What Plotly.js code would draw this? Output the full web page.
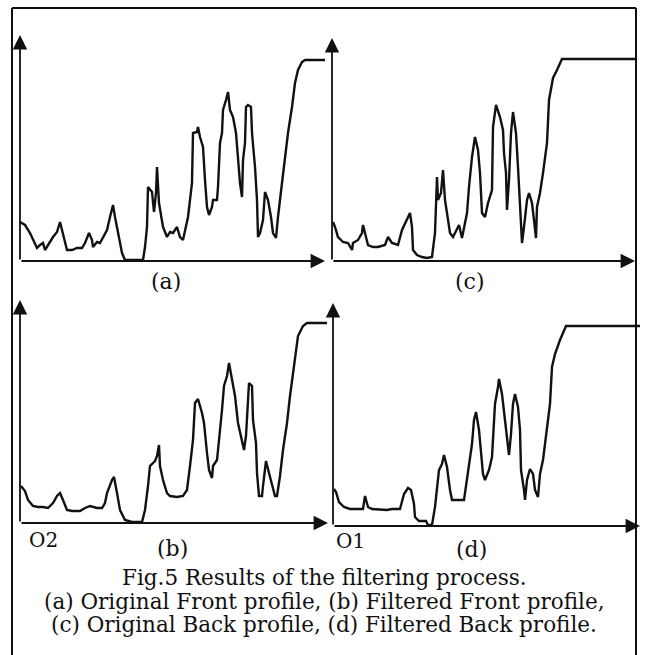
<!DOCTYPE html>
<html>
<head>
<meta charset="utf-8">
<script src="https://cdn.plot.ly/plotly-3.0.1.min.js"></script>
<style>html,body{margin:0;padding:0;background:#fff;}#chart{width:646px;height:655px;}</style>
</head>
<body>
<div id="chart"></div>
<script>
// (a) Original Front profile
const aX = [0,5,10,15,17,20,23,25,28,33,37,40,42,45,47,52,57,62,65,69,72,73,77,80,83,87,90,93,95,98,102,105,123,125,127,128,132,134,136,137,139,143,147,150,153,157,160,163,165,168,172,173,177,178,180,183,185,187,189,192,193,197,198,200,202,203,206,208,210,213,216,218,220,222,223,225,226,228,231,232,235,237,238,240,242,243,245,248,251,253,256,258,262,265,268,272,275,278,282,285,305];
const aY = [39,36,28,18,13,16,18,11,16,24,29,39,31,18,11,11,13,13,18,28,21,14,19,18,23,31,44,56,44,28,8,1,1,14,34,74,69,49,68,94,58,34,24,29,28,34,24,21,31,44,78,128,129,134,124,114,81,54,46,54,61,61,74,118,128,151,161,169,151,144,128,101,78,64,101,118,154,156,154,128,94,61,24,28,39,41,69,61,44,28,23,44,78,104,128,154,178,191,199,201,201];
// (b) Filtered Front profile
const bX = [1,5,8,13,18,23,28,33,37,40,43,47,52,60,65,70,77,82,85,87,92,94,97,100,105,112,122,125,128,130,135,137,139,140,143,147,150,157,163,167,170,173,175,178,182,184,187,189,192,193,197,200,202,204,207,209,212,215,218,222,224,226,227,229,232,233,236,237,239,242,243,246,249,253,255,257,260,263,267,270,275,278,283,287,307];
const bY = [37,32,23,17,16,16,15,20,27,30,23,13,12,12,15,17,15,15,20,30,43,46,30,13,3,1,1,13,37,57,62,67,78,57,43,30,27,26,27,33,57,83,120,124,110,100,70,53,45,57,63,90,113,137,147,160,143,127,100,80,73,87,110,140,137,103,80,50,27,27,37,62,50,33,27,27,47,73,100,127,167,187,197,200,200];
// (c) Original Back profile
const cX = [1,3,6,11,16,20,21,26,30,31,33,36,41,46,53,56,60,66,70,75,78,80,81,85,90,95,100,103,105,106,109,111,113,115,118,121,125,127,130,132,135,137,140,143,146,148,150,153,156,160,161,164,168,171,172,174,175,177,179,181,184,186,188,190,192,195,197,200,202,204,205,208,211,215,217,221,225,230,303];
const cY = [39,34,24,19,18,11,18,21,28,36,28,16,14,14,16,24,18,16,31,41,48,34,11,6,4,3,4,28,84,61,68,91,61,48,28,24,31,36,23,34,48,74,104,124,111,88,48,44,58,71,134,156,144,131,108,88,51,81,128,149,128,94,48,18,34,61,68,58,41,23,54,68,88,118,161,183,191,202,202];
// (d) Filtered Back profile
const dX = [1,3,6,11,17,26,30,32,35,39,49,54,59,67,71,75,78,81,82,86,93,95,99,102,106,109,111,114,117,119,131,133,136,139,141,143,146,148,150,152,156,159,161,162,165,166,169,171,173,176,178,180,182,185,187,188,191,192,194,197,200,202,205,207,210,213,217,219,222,227,230,233,307];
const dY = [37,34,24,19,17,17,17,30,19,17,16,16,17,17,32,38,36,22,9,5,5,1,1,19,56,62,71,59,36,26,26,39,59,82,106,114,96,72,52,46,56,69,99,122,139,147,132,116,96,71,92,122,132,119,96,56,36,26,46,57,52,36,29,52,66,89,122,159,172,186,194,200,200];

const panelLabels = ["(a)", "(b)", "(c)", "(d)"];
const originLabels = ["O2", "O1"];
const captionLines = [
  "Fig.5 Results of the filtering process.",
  "(a) Original Front profile, (b) Filtered Front profile,",
  "(c) Original Back profile, (d) Filtered Back profile."
];

const W = 646, H = 655;
const px = x => x / W;
const py = y => 1 - y / H;

// panel geometry in page pixels: origin, x-axis length, y-axis length
const panels = [
  {ox: 20,  oy: 261, xl: 305, yl: 226, X: aX, Y: aY},
  {ox: 20,  oy: 523, xl: 308, yl: 223, X: bX, Y: bY},
  {ox: 332, oy: 261, xl: 303, yl: 223, X: cX, Y: cY},
  {ox: 333, oy: 526, xl: 307, yl: 223, X: dX, Y: dY}
];
const pad = 6;
const serif = '"DejaVu Serif", "Liberation Serif", serif';

const traces = [];
const layout = {
  width: W, height: H,
  margin: {l: 0, r: 0, t: 0, b: 0},
  paper_bgcolor: '#fff', plot_bgcolor: 'rgba(0,0,0,0)',
  showlegend: false,
  font: {family: serif, color: '#111'},
  annotations: [], shapes: []
};

panels.forEach((p, i) => {
  const n = i === 0 ? '' : String(i + 1);
  const xa = 'x' + n, ya = 'y' + n;
  traces.push({
    type: 'scatter', mode: 'lines', x: p.X, y: p.Y,
    xaxis: xa, yaxis: ya,
    line: {color: '#111', width: 2.4, shape: 'linear'},
    hoverinfo: 'skip'
  });
  const axBase = {showgrid: false, zeroline: false, showticklabels: false, showline: false, ticks: '', fixedrange: true};
  layout['xaxis' + n] = Object.assign({}, axBase, {
    domain: [px(p.ox - pad), px(p.ox + p.xl + 2)],
    range: [-pad, p.xl + 2], anchor: ya
  });
  layout['yaxis' + n] = Object.assign({}, axBase, {
    domain: [py(p.oy + pad), py(p.oy - p.yl - 2)],
    range: [-pad, p.yl + 2], anchor: xa
  });
  // x axis arrow
  layout.annotations.push({
    xref: xa, yref: ya, axref: xa, ayref: ya,
    x: p.xl, y: 0, ax: 0, ay: 0, text: '', showarrow: true,
    arrowhead: 2, arrowsize: 1.6, arrowwidth: 1.8, arrowcolor: '#111', standoff: 0, startstandoff: 0
  });
  // y axis arrow
  layout.annotations.push({
    xref: xa, yref: ya, axref: xa, ayref: ya,
    x: 0, y: p.yl, ax: 0, ay: 0, text: '', showarrow: true,
    arrowhead: 2, arrowsize: 1.6, arrowwidth: 1.8, arrowcolor: '#111', standoff: 0, startstandoff: 0
  });
});

// panel labels
const labelPos = [[166, 281], [172, 548], [470, 281], [471, 549]];
panelLabels.forEach((t, i) => {
  layout.annotations.push({xref: 'paper', yref: 'paper', x: px(labelPos[i][0]), y: py(labelPos[i][1]),
    text: t, showarrow: false, xanchor: 'center', yanchor: 'middle', font: {size: 22}});
});
const originPos = [[43, 540], [350, 541]];
originLabels.forEach((t, i) => {
  layout.annotations.push({xref: 'paper', yref: 'paper', x: px(originPos[i][0]), y: py(originPos[i][1]),
    text: t, showarrow: false, xanchor: 'center', yanchor: 'middle', font: {size: 20}});
});
// caption
const capY = [577, 601, 624];
captionLines.forEach((t, i) => {
  layout.annotations.push({xref: 'paper', yref: 'paper', x: px(324), y: py(capY[i]),
    text: t, showarrow: false, xanchor: 'center', yanchor: 'middle', font: {size: 21.5}});
});

// outer frame
const frame = {type: 'line', xref: 'paper', yref: 'paper', line: {color: '#111', width: 2}};
layout.shapes.push(Object.assign({}, frame, {x0: px(12), x1: px(12), y0: py(8), y1: py(655)}));
layout.shapes.push(Object.assign({}, frame, {x0: px(636), x1: px(636), y0: py(8), y1: py(655)}));
layout.shapes.push(Object.assign({}, frame, {x0: px(12), x1: px(636), y0: py(8), y1: py(8)}));

Plotly.newPlot('chart', traces, layout, {staticPlot: true, displayModeBar: false});
</script>
</body>
</html>
